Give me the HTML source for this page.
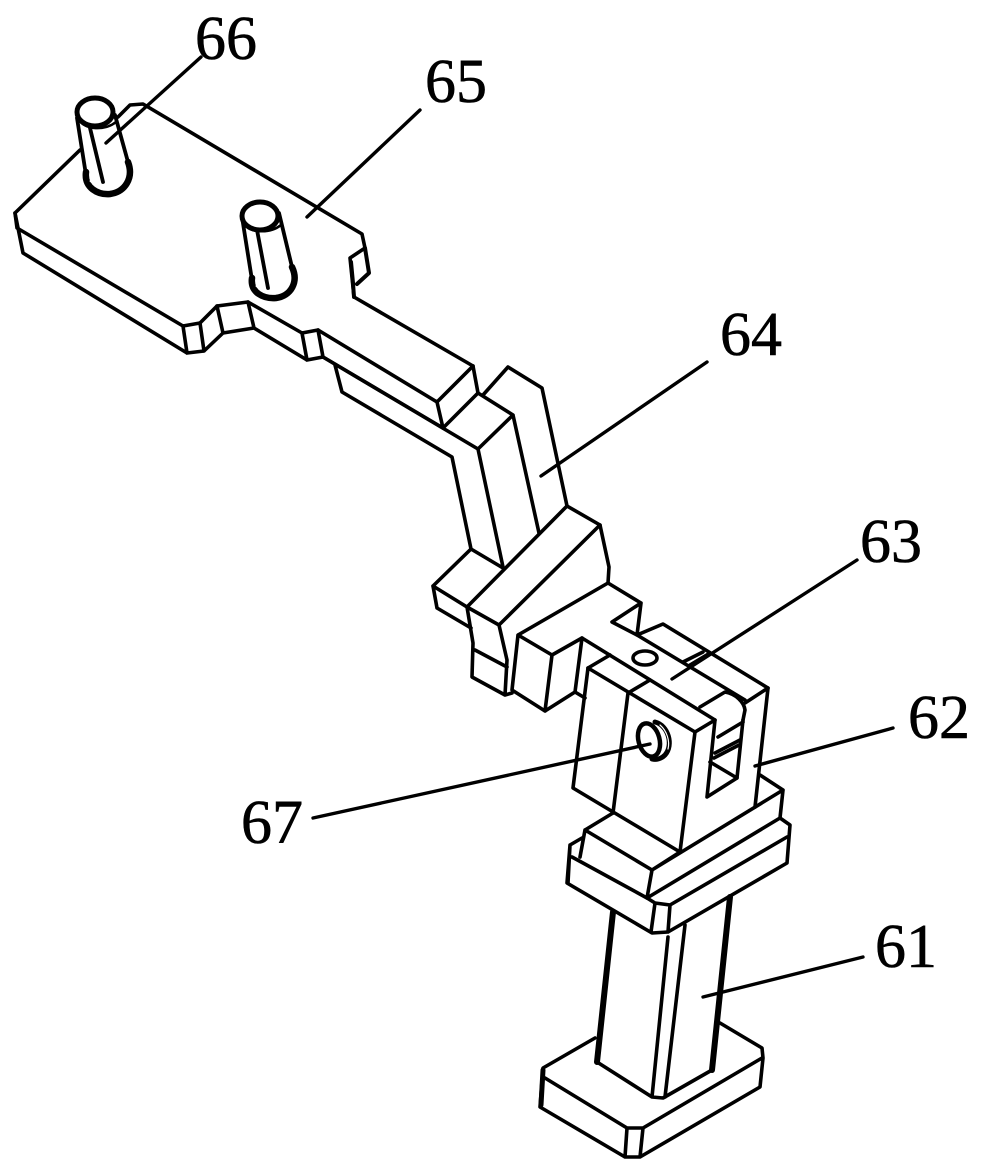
<!DOCTYPE html>
<html>
<head>
<meta charset="utf-8">
<style>
html,body{margin:0;padding:0;background:#fff;width:983px;height:1174px;overflow:hidden}
svg{display:block}
text{font-family:"Liberation Serif",serif;font-size:62px;fill:#000;stroke:#000;stroke-width:.6}
</style>
</head>
<body>
<svg width="983" height="1174" viewBox="0 0 983 1174" xmlns="http://www.w3.org/2000/svg">
<rect width="983" height="1174" fill="#fff"/>
<g fill="none" stroke="#000" stroke-width="3.6" stroke-linejoin="round" stroke-linecap="round">
<!-- plate -->
<path d="M80 150L15 213L17 228L183 326L200 323L217 306L248 302L302 333L318 330L437 402L473 366L354 297L350 258L365 248L362 234L143 104L130 105L118 117"/>
<path d="M15 213L23 253L187 353L204 351L223 333L254 328L307 360L323 357L443 428L437 402M183 326L187 353M200 323L204 351M217 306L223 333M248 302L254 328M302 333L307 360M318 330L323 357"/>
<path d="M365 248L369 273L357 284M354 297L353 283L351 262" stroke-width="4"/>
<path d="M473 366L478 393L443 428"/>
<!-- pin 1 -->
<path d="M77 118L86 175M115 115L128 162M90 128L103 182" stroke-width="3.8"/>
<ellipse cx="95" cy="112" rx="18" ry="14" stroke-width="5"/>
<path d="M79 120C85 130 105 131 116 122" stroke-width="2.5"/>
<path d="M86 172C84 188 98 195 110 194C125 192 134 178 128 162" stroke-width="6.5"/>
<path d="M90 181C96 187 102 189 107 189" stroke="#fff" stroke-width="1.2"/>
<!-- pin 2 -->
<path d="M242 217L252 280M279 213L292 267M257 230L268 288" stroke-width="3.8"/>
<ellipse cx="260" cy="216" rx="18" ry="14" stroke-width="5"/>
<path d="M244 224C250 233 270 234 281 225" stroke-width="2.5"/>
<path d="M252 278C250 293 264 299 276 298C291 296 299 282 292 267" stroke-width="6.5"/>
<path d="M256 286C262 292 268 294 273 294" stroke="#fff" stroke-width="1.2"/>
<!-- lower plate & arm -->
<path d="M335 365L342 392L452 457L471 549L503 568M323 357L478 449L503 567M478 449L513 415L539 533M478 393L513 415M483 395L508 367L542 388L567 506"/>
<path d="M567 506L600 525L609 567L608 583L518 635L512 690L545 711L575 692L582 638L552 655L518 635M552 655L545 711M575 692L585 698"/>
<path d="M567 506L467 607M600 525L499 625M467 607L499 625M471 549L433 586L467 607M433 586L437 608L471 628"/>
<path d="M467 607L473 643L472 677L505 695L512 693M475 650L507 667M499 625L507 660L505 695"/>
<!-- top plate with hole -->
<path d="M608 583L641 603L612 622L637 635L641 603M637 635L663 624L768 688M582 638L715 720M637 635L745 700"/>
<ellipse cx="645" cy="658" rx="12" ry="7"/>
<path d="M588 668L610 655M683 662L703 652M690 665L710 653"/>
<!-- clevis block -->
<path d="M588 668L573 788L680 852L695 732L588 668M628 693L613 813M650 680L628 693M695 732L715 720L707 797L737 778L743 720M745 703L768 688L755 807"/>
<path d="M700 707L725 692C736 694 744 702 745 710L743 720M718 737L743 722M715 753L740 740M714 758L739 745M710 762L737 778"/>
<ellipse cx="649" cy="740" rx="10.5" ry="17" transform="rotate(-15 649 740)" stroke-width="4.5"/>
<path d="M655 722C668 725 674 745 665 755C661 759 656 760 652 759" stroke-width="5"/>
<path d="M660 725C667 731 670 741 668 749" stroke="#fff" stroke-width="1.2"/>
<!-- base stack -->
<path d="M760 775L783 790L780 818L647 898L652 870L783 790M652 870L585 830L613 813M585 830L580 857M680 852L652 870"/>
<path d="M780 818L790 825L787 863L668 932L652 933L567 883L570 845L582 838M570 845L568 883M572 857L647 898L655 903L670 905L787 837M670 905L668 932M655 903L651 932"/>
<!-- column -->
<path d="M613 912L597 1062M730 897L712 1070" stroke-width="6"/>
<path d="M597 1062L652 1097L663 1098L712 1070M668 937L652 1097M685 925L665 1097"/>
<!-- foot -->
<path d="M595 1038L543 1068L540 1107L625 1157L640 1157L760 1087L763 1058L762 1048L720 1023M545 1078L627 1128L643 1128L762 1058M627 1128L625 1157M643 1128L640 1157"/>
<path d="M543 1070L541 1105" stroke-width="5"/>
</g>
<!-- leaders -->
<g stroke="#000" stroke-width="3.4" stroke-linecap="round">
<line x1="106" y1="143" x2="201" y2="57"/>
<line x1="307" y1="217" x2="420" y2="110"/>
<line x1="541" y1="476" x2="707" y2="362"/>
<line x1="672" y1="679" x2="857" y2="560"/>
<line x1="755" y1="766" x2="893" y2="728"/>
<line x1="703" y1="997" x2="863" y2="957"/>
<line x1="313" y1="818" x2="650" y2="744"/>
</g>
<text x="195" y="59">66</text>
<text x="425" y="102">65</text>
<text x="720" y="355">64</text>
<text x="860" y="562">63</text>
<text x="908" y="738">62</text>
<text x="875" y="967">61</text>
<text x="241" y="843">67</text>
</svg>
</body>
</html>
